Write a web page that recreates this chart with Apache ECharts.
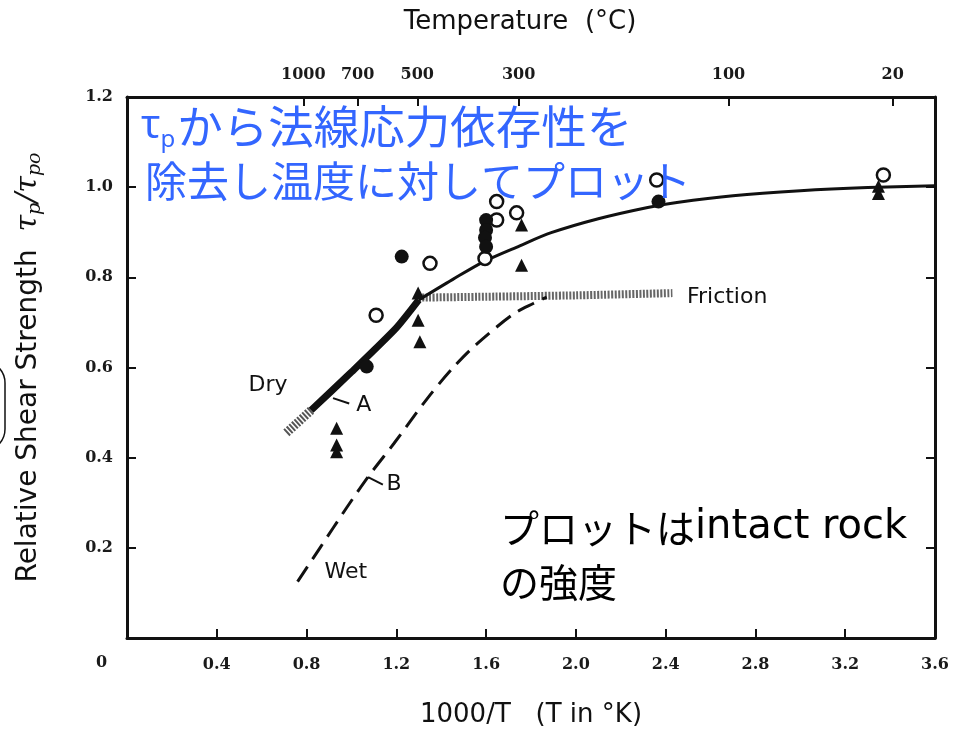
<!DOCTYPE html>
<html>
<head>
<meta charset="utf-8">
<script src="https://cdn.jsdelivr.net/npm/echarts@6/dist/echarts.min.js"></script>
<style>
  html, body { margin: 0; padding: 0; background: #fff; }
  #chart { width: 956px; height: 729px; }
</style>
</head>
<body>
<div id="chart"></div>
<script>
// Temperature scale on the top axis (°C), placed at 1000/T with T in K
const tempC = [1000, 700, 500, 300, 100, 20];

// Curves (x = 1000/T, y = relative shear strength)
const dryTail  = [[0.71, 0.455], [0.82, 0.505]];
const dryThick = [[0.82, 0.505], [1.0, 0.590], [1.2, 0.688], [1.30, 0.750]];
const dryUpper = [[1.30, 0.750], [1.45, 0.795], [1.59, 0.835], [1.75, 0.870], [1.89, 0.899],
                  [2.1, 0.930], [2.32, 0.955], [2.45, 0.966], [2.7, 0.981], [3.0, 0.992],
                  [3.3, 0.999], [3.6, 1.003]];
const friction = [[1.30, 0.755], [1.6, 0.757], [2.0, 0.760], [2.43, 0.765]];
const wet      = [[0.76, 0.125], [0.86, 0.200], [0.98, 0.290], [1.075, 0.358], [1.19, 0.432],
                  [1.336, 0.530], [1.45, 0.598], [1.558, 0.652], [1.72, 0.718], [1.81, 0.742],
                  [1.87, 0.756]];

// Measured strengths of intact rock
const openCircles   = [[1.11, 0.716], [1.35, 0.831], [1.595, 0.842], [1.647, 0.927], [1.647, 0.968],
                       [1.736, 0.943], [2.36, 1.016], [3.37, 1.027]];
const filledCircles = [[1.068, 0.602], [1.224, 0.846], [1.60, 0.927], [1.60, 0.905], [1.595, 0.888],
                       [1.60, 0.868], [2.368, 0.968]];
const triangles     = [[0.934, 0.465], [0.934, 0.428], [0.934, 0.413], [1.297, 0.765], [1.297, 0.705],
                       [1.305, 0.657], [1.758, 0.916], [1.758, 0.827], [3.348, 1.002], [3.348, 0.986]];

// Curve labels and leader strokes
const curveLabels = [
  { name: 'Dry', value: [0.628, 0.561] },
  { name: 'A', value: [1.055, 0.517] },
  { name: 'B', value: [1.19, 0.340] },
  { name: 'Wet', value: [0.975, 0.146] },
  { name: 'Friction', value: [2.674, 0.756] }
];
const leaderA = [[0.918, 0.532], [0.99, 0.520]];
const leaderB = [[1.074, 0.357], [1.14, 0.340]];

const tempPos = tempC.map(t => 1000 / (t + 273.15));

const tickFont = { fontFamily: 'DejaVu Serif', fontWeight: 'bold', fontSize: 16, color: '#1a1a1a' };
const frameLine = { show: true, onZero: false, lineStyle: { color: '#111', width: 3 } };
const innerTick = { show: true, inside: true, length: 9, lineStyle: { color: '#111', width: 2 } };

const chart = echarts.init(document.getElementById('chart'));

chart.setOption({
  backgroundColor: '#fff',
  animation: false,
  grid: { left: 127, right: 21, top: 97, bottom: 91, outerBoundsMode: 'none' },
  xAxis: [
    {
      type: 'value', min: 0, max: 3.6, interval: 0.4, position: 'bottom',
      axisLine: frameLine, axisTick: innerTick, splitLine: { show: false },
      axisLabel: Object.assign({ margin: 19, formatter: v => v === 0 ? '' : v.toFixed(1) }, tickFont),
      name: '1000/T   (T in °K)', nameLocation: 'middle', nameGap: 64,
      nameTextStyle: { fontFamily: 'DejaVu Sans', fontSize: 26, color: '#111' }
    },
    {
      type: 'value', min: 0, max: 3.6, position: 'top',
      axisLine: frameLine,
      axisTick: Object.assign({}, innerTick, { customValues: tempPos }),
      splitLine: { show: false },
      axisLabel: Object.assign({
        margin: 14, customValues: tempPos,
        formatter: v => {
          let best = 0;
          tempPos.forEach((p, i) => { if (Math.abs(p - v) < Math.abs(tempPos[best] - v)) best = i; });
          return String(tempC[best]);
        }
      }, tickFont),
      name: 'Temperature  (°C)', nameLocation: 'middle', nameGap: 62,
      nameTextStyle: { fontFamily: 'DejaVu Sans', fontSize: 26, color: '#111', padding: [0, 22, 0, 0] }
    }
  ],
  yAxis: [
    {
      type: 'value', min: 0, max: 1.2, interval: 0.2, position: 'left',
      axisLine: frameLine, axisTick: innerTick, splitLine: { show: false },
      axisLabel: Object.assign({ margin: 14, formatter: v => v === 0 ? '' : v.toFixed(1) }, tickFont),
      name: 'Relative Shear Strength  {i|τ}{s|p}{i|/τ}{s|po}', nameLocation: 'middle', nameGap: 82,
      nameTextStyle: {
        fontFamily: 'DejaVu Sans', fontSize: 28, color: '#111',
        rich: {
          i: { fontFamily: 'DejaVu Serif', fontStyle: 'italic', fontSize: 30, color: '#111' },
          s: { fontFamily: 'DejaVu Serif', fontStyle: 'italic', fontSize: 19, color: '#111', verticalAlign: 'bottom', padding: [14, 0, 0, 0] }
        }
      }
    },
    {
      type: 'value', min: 0, max: 1.2, interval: 0.2, position: 'right',
      axisLine: frameLine, axisTick: innerTick, splitLine: { show: false },
      axisLabel: { show: false }
    }
  ],
  series: [
    {
      type: 'line', data: friction, symbol: 'none', smooth: 0.2, z: 2,
      lineStyle: { color: '#666', width: 8, type: [2, 1.5] }
    },
    {
      type: 'line', data: dryTail, symbol: 'none', z: 2,
      lineStyle: { color: '#555', width: 9, type: [2, 1.5] }
    },
    {
      type: 'line', data: dryThick, symbol: 'none', smooth: 0.2, z: 3,
      lineStyle: { color: '#111', width: 7 }
    },
    {
      type: 'line', data: dryUpper, symbol: 'none', smooth: 0.3, z: 3,
      lineStyle: { color: '#111', width: 3 }
    },
    {
      type: 'line', data: wet, symbol: 'none', smooth: 0.3, z: 3,
      lineStyle: { color: '#111', width: 3, type: [18, 9] }
    },
    {
      type: 'line', data: leaderA, symbol: 'none', z: 3,
      lineStyle: { color: '#111', width: 2 }
    },
    {
      type: 'line', data: leaderB, symbol: 'none', z: 3,
      lineStyle: { color: '#111', width: 2 }
    },
    {
      type: 'scatter', data: openCircles, symbol: 'circle', symbolSize: 13, z: 5,
      itemStyle: { color: '#fff', borderColor: '#111', borderWidth: 2.5, opacity: 1 }
    },
    {
      type: 'scatter', data: filledCircles, symbol: 'circle', symbolSize: 14, z: 5,
      itemStyle: { color: '#111', opacity: 1 }
    },
    {
      type: 'scatter', data: triangles, symbol: 'triangle', symbolSize: 13, z: 5,
      itemStyle: { color: '#111', opacity: 1 }
    },
    {
      type: 'scatter', data: curveLabels, symbolSize: 0, z: 6,
      itemStyle: { opacity: 1 },
      label: {
        show: true, position: 'inside', formatter: p => p.name, opacity: 1,
        fontFamily: 'DejaVu Sans', fontSize: 22, color: '#111'
      }
    }
  ],
  graphic: [
    {
      type: 'text', left: 96, top: 655,
      style: { text: '0', fontFamily: 'DejaVu Serif', fontWeight: 'bold', fontSize: 16, fill: '#1a1a1a' }
    },
    {
      type: 'rect', shape: { x: -40, y: 361, width: 45, height: 90, r: 22 },
      style: { fill: 'none', stroke: '#111', lineWidth: 1.5 }
    },
    {
      type: 'text', left: 141, top: 104, z: 10,
      style: {
        text: '{t|τ}{p|p}{j|から法線応力依存性を}',
        rich: {
          t: { fontFamily: 'Noto Sans', fontSize: 40, fill: '#3366ff', lineHeight: 50 },
          p: { fontFamily: 'Noto Sans', fontSize: 24, fill: '#3366ff', verticalAlign: 'bottom', lineHeight: 34, padding: [14, 2, 0, 0] },
          j: { fontFamily: 'Noto Sans CJK JP', fontSize: 45.5, fill: '#3366ff', lineHeight: 50 }
        }
      }
    },
    {
      type: 'text', left: 145, top: 160, z: 10,
      style: { text: '除去し温度に対してプロット', fontFamily: 'Noto Sans CJK JP', fontSize: 42, fill: '#3366ff' }
    },
    {
      type: 'text', left: 500, top: 508, z: 10,
      style: {
        text: '{j|プロットは}{l|intact rock}\n{j|の強度}',
        rich: {
          j: { fontFamily: 'Noto Sans CJK JP', fontSize: 39, fill: '#000', lineHeight: 54 },
          l: { fontFamily: 'DejaVu Sans', fontSize: 40, fill: '#000', lineHeight: 54 }
        }
      }
    }
  ]
});
</script>
</body>
</html>
